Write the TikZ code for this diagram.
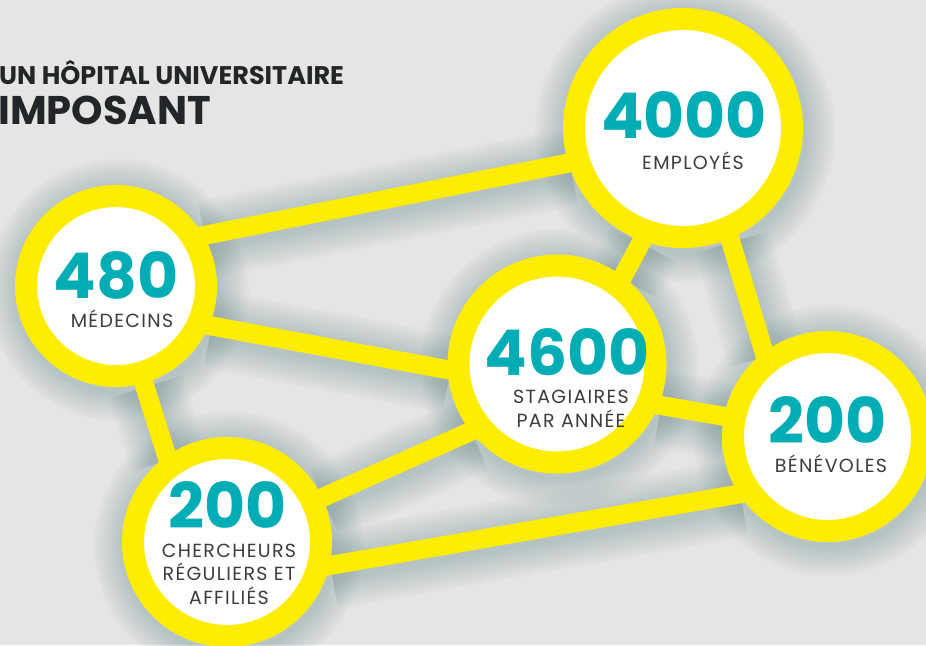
\documentclass[tikz,border=0pt]{standalone}
\usepackage{fontspec}
\setmainfont{Poppins}
\newfontfamily\lblfont{Poppins}[LetterSpace=7]
\usetikzlibrary{backgrounds}

\definecolor{hopyellow}{RGB}{255,237,0}
\definecolor{hopteal}{RGB}{0,173,181}
\definecolor{hoplabel}{RGB}{60,60,62}
\definecolor{hoptitle}{RGB}{34,38,40}
\definecolor{hopbg}{RGB}{229,229,227}
\definecolor{hopshadow}{RGB}{110,145,148}

\tikzset{
  num/.style={anchor=base, inner sep=0, text=hopteal,
    font=\fontsize{63}{63}\selectfont\bfseries},
  lbl/.style={anchor=base, inner sep=0, text=hoplabel, align=center,
    font=\lblfont\fontsize{19}{23.5}\selectfont},
  ttl/.style={anchor=base west, inner sep=0, text=hoptitle, font=\bfseries}
}

\begin{document}
\begin{tikzpicture}[x=1pt,y=-1pt]
  \useasboundingbox (0,0) rectangle (926,645);

  % the five rings
  \begin{scope}[every node/.style={circle, draw=hopyellow, fill=white, line width=22pt, inner sep=0}]
    \node[minimum size=218] (emp)  at (683,128)   {};
    \node[minimum size=180] (med)  at (116,286)   {};
    \node[minimum size=197] (stag) at (557,364)   {};
    \node[minimum size=188] (cher) at (227,542)   {};
    \node[minimum size=189] (ben)  at (827.5,436.5) {};
  \end{scope}

  \begin{scope}[on background layer]
    \fill[hopbg] (0,0) rectangle (926,645);

    % soft shadow round rings and bars
    \begin{scope}[transform canvas={shift={(2pt,-4pt)}}]
      \foreach \k in {2,4,...,30} {
        \draw[hopshadow, opacity=.028, line width=2*\k pt]
          (emp.center) circle[radius=120pt] (med.center) circle[radius=101pt]
          (stag.center) circle[radius=109.5pt] (cher.center) circle[radius=105pt]
          (ben.center) circle[radius=105.5pt];
        \draw[hopshadow, opacity=.028, line width=19pt+2*\k pt]
          (med.30) -- (emp.197)   (med.-23) -- (stag.183)
          (emp.250) -- (stag.53)  (emp.293) -- (ben.127)
          (stag.-22) -- (ben.169) (cher.25) -- (stag.218)
          (cher.-13) -- (ben.213) (med.286) -- (cher.125);
      }
    \end{scope}

    % yellow bars
    \begin{scope}[every edge/.style={draw=hopyellow, line width=19pt, shorten <=-14pt, shorten >=-14pt}]
      \path (med.30)   edge (emp.197);
      \path (med.-23)  edge (stag.183);
      \path (emp.250)  edge (stag.53);
      \path (emp.293)  edge (ben.127);
      \path (stag.-22) edge (ben.169);
      \path (cher.25)  edge (stag.218);
      \path (cher.-13) edge (ben.213);
      \path (med.286)  edge (cher.125);
    \end{scope}
  \end{scope}

  % title
  \node[ttl, font=\fontsize{25.5}{25.5}\selectfont\bfseries] (t1) at (-1,84)  {UN HÔPITAL UNIVERSITAIRE};
  \node[ttl, font=\fontsize{40}{40}\selectfont\bfseries] (t2) at (-2,124) {IMPOSANT};

  % figures
  \node[num] (emp-n)  at (684,138)   {4000};
  \node[lbl] (emp-l)  at (693,169)   {EMPLOYÉS};
  \node[num] (med-n)  at (116,298)   {480};
  \node[lbl] (med-l)  at (122,327)   {MÉDECINS};
  \node[num] (stag-n) at (567,375)   {4600};
  \node[lbl] (stag-l) at (571,427)   {STAGIAIRES\\PAR ANNÉE};
  \node[num] (cher-n) at (227.5,528) {200};
  \node[lbl] (cher-l) at (229,604)   {CHERCHEURS\\RÉGULIERS ET\\AFFILIÉS};
  \node[num] (ben-n)  at (828,443)   {200};
  \node[lbl] (ben-l)  at (831,472)   {BÉNÉVOLES};

\end{tikzpicture}
\end{document}
